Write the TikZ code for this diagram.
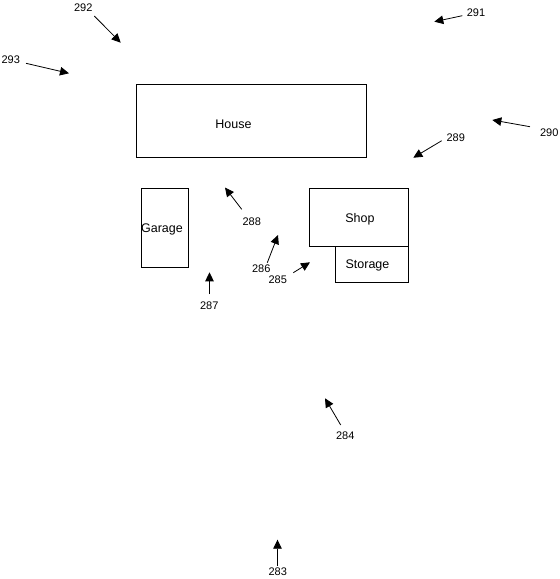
\documentclass[tikz,border=0pt]{standalone}
\usepackage{fontspec}
\setmainfont{Liberation Sans}
\usetikzlibrary{arrows.meta}
\tikzset{
  building/.style={draw=black,line width=0.9pt,fill=white,inner sep=0pt,outer sep=0pt},
  lab/.style={font=\fontsize{11pt}{12pt}\selectfont,inner sep=0pt},
  blab/.style={font=\fontsize{12.5pt}{14pt}\selectfont,inner sep=0pt},
  arr/.style={draw=black,line width=0.8pt,-{Triangle[length=9pt,width=8.5pt]}}
}
\begin{document}
\begin{tikzpicture}[x=1pt,y=-1pt]
\useasboundingbox (0,0) rectangle (560,579);
\node[building,minimum width=230pt,minimum height=73pt] (house) at (251.5,121) {};
\node[blab] (houselab) at (233.5,124.5) {House};
\node[building,minimum width=47pt,minimum height=79pt] (garage) at (165,228) {};
\node[blab] (garagelab) at (162,229) {Garage};
\node[building,minimum width=99pt,minimum height=58pt] (shop) at (359,217) {};
\node[blab] (shoplab) at (360,218.8) {Shop};
\node[building,minimum width=73pt,minimum height=36pt] (storage) at (372,264.5) {};
\node[blab] (storagelab) at (367.5,265.8) {Storage};
\foreach \n/\x/\y/\sx/\sy/\tx/\ty in {
  283/277.7/571.8/277.5/565.7/277.5/539.7,
  284/345.3/436.2/340.7/425/325/398.3,
  285/277.7/279.8/293.3/272.7/310/262.3,
  286/261.3/268.8/267.3/262.7/278/235,
  287/209.3/305.6/209.5/294/209.5/272.3,
  288/251.7/221.6/241.7/209.3/225/187.5,
  289/455.7/137.8/441.7/140.7/413.3/157.7,
  290/549.3/132.6/530/126.7/492.3/120,
  291/476/13.2/462.3/15.7/434.3/21.7,
  292/83.3/7.8/94.3/16/120.7/42.7,
  293/10.7/59.6/26/63.3/69/73.3}{
  \node[lab] (l\n) at (\x,\y) {\n};
  \coordinate (s\n) at (\sx,\sy);
  \coordinate (t\n) at (\tx,\ty);
  \draw[arr] (s\n) -- (t\n);
}
\end{tikzpicture}
\end{document}
